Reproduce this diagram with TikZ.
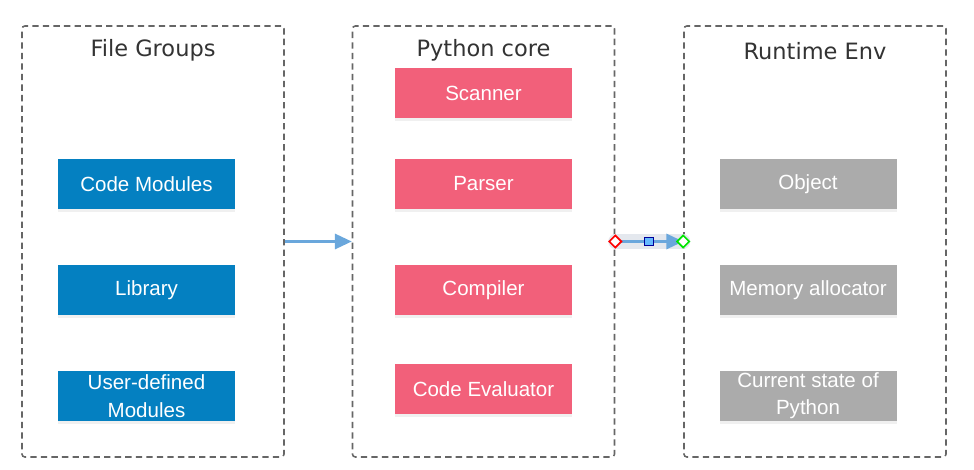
\documentclass[tikz,border=0pt]{standalone}
\usepackage{fontspec}
\setmainfont{Liberation Sans}
\newfontfamily\titlefont{DejaVu Sans}
\usetikzlibrary{positioning,arrows.meta,shapes.geometric,shadows,calc}
\definecolor{fileblue}{HTML}{0480C1}
\definecolor{corepink}{HTML}{F2607A}
\definecolor{envgray}{HTML}{ABABAB}
\definecolor{flowblue}{HTML}{6AA7DC}
\definecolor{framegray}{HTML}{666666}
\definecolor{titlegray}{HTML}{333333}
\definecolor{halogray}{HTML}{E4E8EE}
\tikzset{
  group/.style ={draw=framegray, line width=1.1pt, dash pattern=on 4.5pt off 3pt,
                 rounded corners=2pt, minimum width=6.55cm, minimum height=10.775cm},
  gtitle/.style={font=\titlefont\fontsize{16}{19}\selectfont, text=titlegray},
  box/.style   ={minimum width=4.425cm, minimum height=1.25cm, inner sep=1pt,
                 align=center, text=white, font=\fontsize{14.6}{19.5}\selectfont,
                 drop shadow={opacity=0.12, shadow xshift=0pt, shadow yshift=-2pt}},
  fbox/.style  ={box, fill=fileblue},
  cbox/.style  ={box, fill=corepink},
  ebox/.style  ={box, fill=envgray},
  flow/.style  ={draw=flowblue, line width=1.7pt,
                 -{Triangle[length=0.42cm, width=0.38cm]}},
  handle/.style={diamond, draw, fill=white, line width=1.2pt, inner sep=0pt,
                 minimum size=0.32cm},
}
% boxes: name/text/y
\def\filelist{cm/Code Modules/7.15, lib/Library/4.5, udm/{User-defined\\Modules}/1.85}
\def\corelist{scan/Scanner/9.425, pars/Parser/7.15, comp/Compiler/4.5, eval/Code Evaluator/2.025}
\def\envlist{obj/Object/7.15, mem/Memory allocator/4.5, cur/{Current state of\\Python}/1.85}
\begin{document}
\begin{tikzpicture}
\useasboundingbox (0,0) rectangle (24.35,11.75);
% --- the three groups ---
\node[group] (files) at (3.825,5.7125) {};
\node[group] (core)  at (12.0875,5.7125) {};
\node[group] (env)   at (20.375,5.7125) {};
\node[gtitle] (tfiles) at (3.825,10.48) {File Groups};
\node[gtitle] (tcore)  at (12.0875,10.48) {Python core};
\node[gtitle] (tenv)   at (20.375,10.48) {Runtime Env};
% --- their boxes ---
\foreach \n/\t/\y in \filelist {\node[fbox] (\n) at (3.6625,\y) {\t};}
\foreach \n/\t/\y in \corelist {\node[cbox] (\n) at (12.0875,\y) {\t};}
\foreach \n/\t/\y in \envlist  {\node[ebox] (\n) at (20.2,\y) {\t};}
% --- flow between groups ---
\draw[flow] (files.east) -- (core.west);
\draw[line width=10pt, halogray, line cap=round] (core.east) -- (env.west);
\draw[flow] (core.east) -- (env.west);
\node[handle, draw=red]            (hstart) at (core.east) {};
\node[handle, draw=green!90!black] (hend)   at (env.west) {};
\node[draw=blue!60!black, fill=blue!45!cyan!60, line width=0.6pt, minimum size=0.22cm,
      inner sep=0pt] (hmid) at ($(core.east)!0.5!(env.west)$) {};
\end{tikzpicture}
\end{document}
